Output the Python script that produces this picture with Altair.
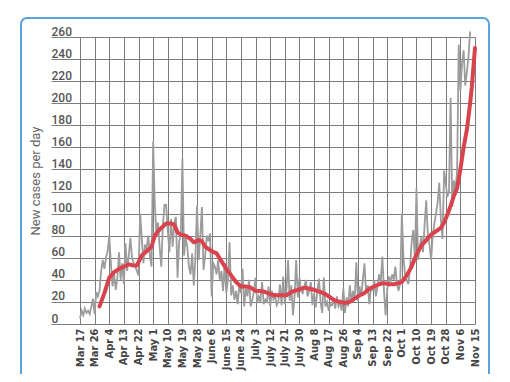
import json
import altair as alt
import pandas as pd

# Daily new cases, one value per day starting Mar 17 (day 0)
daily_cases = [
    5, 12, 8, 14, 10, 12, 9, 16, 23,
    9, 29, 25, 30, 48, 58, 50, 60, 66,
    80, 55, 34, 45, 31, 42, 65, 40, 55,
    36, 73, 48, 62, 78, 60, 55, 52, 48,
    44, 100, 78, 55, 72, 68, 80, 62, 52,
    165, 110, 80, 92, 70, 52, 90, 108, 108,
    85, 65, 95, 70, 92, 97, 42, 75, 80,
    150, 62, 78, 70, 52, 45, 64, 35, 60,
    107, 58, 80, 106, 49, 62, 80, 75, 82,
    25, 55, 52, 45, 58, 40, 48, 30, 55,
    28, 40, 74, 26, 35, 22, 30, 18, 35,
    28, 50, 16, 32, 25, 40, 16, 22, 30,
    42, 19, 25, 20, 38, 18, 22, 20, 34,
    16, 30, 22, 26, 17, 20, 36, 17, 43,
    18, 30, 58, 21, 35, 8, 25, 58, 24,
    42, 30, 28, 34, 40, 25, 30, 38, 17,
    28, 15, 30, 41, 20, 10, 42, 16, 20,
    12, 18, 17, 22, 14, 25, 16, 20, 12,
    32, 10, 24, 16, 35, 20, 30, 22, 56,
    21, 34, 25, 40, 55, 28, 35, 18, 34,
    30, 40, 25, 34, 45, 38, 61, 30, 8,
    31, 43, 38, 45, 40, 52, 36, 30, 38,
    100, 60, 45, 40, 36, 50, 74, 85, 60,
    123, 58, 70, 79, 65, 90, 112, 80, 72,
    58, 80, 91, 100, 110, 128, 95, 77, 139,
    127, 115, 120, 205, 106, 130, 120, 140, 253,
    211, 235, 248, 216, 228, 242, 265,
]

# Smoothed average (red line), read at selected days
avg_days = [12, 15, 18, 21, 24, 27, 30, 33, 35, 36, 38, 41, 44, 46, 48, 50, 53, 56, 58,
            60, 62, 65, 68, 70, 73, 75, 77, 79, 81, 84, 87, 90, 93, 96, 99, 102, 105,
            108, 111, 114, 117, 120, 124, 127, 130, 134, 138, 141, 144, 148, 151, 154,
            157, 160, 163, 166, 169, 172, 175, 178, 181, 184, 187, 190, 193, 196, 198,
            201, 204, 207, 210, 213, 216, 219, 222, 224, 226, 228, 230, 232, 234, 236,
            238, 240, 241, 243]
avg_values = [16, 28, 42, 47, 50, 52, 54, 53, 53, 56, 62, 66, 70, 80, 84, 87, 91, 91, 90,
              83, 81, 80, 77, 74, 76, 75, 70, 68, 66, 64, 57, 50, 44, 38, 34, 34, 33,
              30, 30, 29, 27, 26, 26, 26, 29, 31, 33, 32, 31, 29, 27, 24,
              21, 20, 19, 20, 23, 26, 28, 32, 34, 36, 37, 36, 36, 37, 38,
              44, 52, 63, 71, 76, 81, 84, 87, 92, 99, 107, 116, 123, 140, 160,
              176, 200, 214, 250]

tick_days = list(range(0, 244, 9))
tick_labels = ["Mar 17", "Mar 26", "Apr 4", "Apr 13", "Apr 22", "May 1", "May 10",
               "May 19", "May 28", "June 6", "June 15", "June 24", "July 3", "July 12",
               "July 21", "July 30", "Aug 8", "Aug 17", "Aug 26", "Sep 4", "Sep 13",
               "Sep 22", "Oct 1", "Oct 10", "Oct 19", "Oct 28", "Nov 6", "Nov 15"]
y_ticks = list(range(0, 261, 20))

daily_df = pd.DataFrame({"day": list(range(len(daily_cases))), "cases": daily_cases})
avg_df = pd.DataFrame({"day": avg_days, "cases": avg_values})

GRID = "#7d7d7d"
x_scale = alt.Scale(domain=[0, 243], nice=False, zero=False)
y_scale = alt.Scale(domain=[0, 260], nice=False)

x_axis = alt.Axis(
    values=tick_days, tickCount=len(tick_days),
    labelExpr=json.dumps(tick_labels) + "[round(datum.value / 9)]",
    labelAngle=270, labelFont="Liberation Sans Narrow, DejaVu Sans Condensed, Roboto Condensed, Roboto",
    labelFontSize=11, labelFontWeight="bold", labelColor="#444",
    labelPadding=4, ticks=False, domain=False, grid=True, gridColor=GRID,
    labelOverlap=False,
    title="Date", titleFont="Roboto", titleFontSize=13, titleFontWeight="normal",
    titleColor="#666", titlePadding=10,
)
y_axis = alt.Axis(
    values=y_ticks, tickCount=len(y_ticks), labelAlign="left", labelBaseline="alphabetic",
    labelPadding=0, labelOverlap=False,
    labelOffset=-2, tickSize=29, tickColor=GRID, domain=False, grid=True, gridColor=GRID,
    labelFont="Roboto", labelFontSize=12, labelColor="#555", labelFontWeight=500,
    title="New cases per day", titleFont="Roboto", titleFontSize=13,
    titleFontWeight="normal", titleColor="#666", titlePadding=8,
)

frame = alt.Chart(pd.DataFrame({"k": [0]})).mark_rect(
    fillOpacity=0, stroke="#5aa3d8", strokeWidth=2, cornerRadius=6
).encode(x=alt.value(-59), x2=alt.value(409), y=alt.value(-19), y2=alt.value(420))

gray = alt.Chart(daily_df).mark_line(color="#9c9c9c", strokeWidth=1.8).encode(
    x=alt.X("day:Q", scale=x_scale, axis=x_axis),
    y=alt.Y("cases:Q", scale=y_scale, axis=y_axis),
)
red = alt.Chart(avg_df).mark_line(
    color="#d8434d", strokeWidth=4, strokeCap="round", strokeJoin="round"
).encode(
    x=alt.X("day:Q", scale=x_scale, axis=x_axis),
    y=alt.Y("cases:Q", scale=y_scale, axis=y_axis),
)

chart = alt.layer(frame, gray, red).properties(
    width=395, height=287,
    autosize=alt.AutoSizeParams(type="none"),
    padding={"left": 72, "top": 29, "right": 27, "bottom": 50},
    background="white",
).configure_view(strokeWidth=0)

chart.save("out.html", embed_options={"renderer": "svg", "actions": False})
